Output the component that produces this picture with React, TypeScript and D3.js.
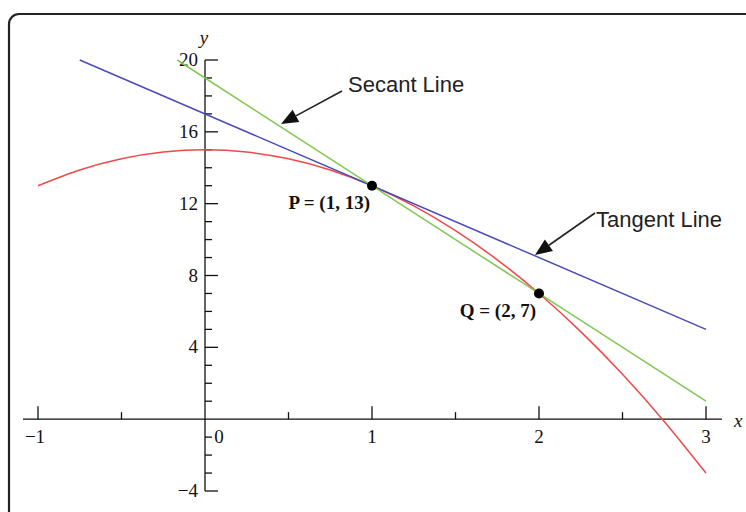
import React from 'react';
import * as d3 from 'd3';

// curve y = f(x)
const curveX = [-1, -0.75, -0.5, -0.25, 0, 0.25, 0.5, 0.75, 1, 1.25, 1.5, 1.75, 2, 2.25, 2.5, 2.75, 3];
const curveY = [13, 13.875, 14.5, 14.875, 15, 14.875, 14.5, 13.875, 13, 11.875, 10.5, 8.875, 7, 4.875, 2.5, -0.125, -3];

// straight lines (end points)
const tangentX = [-0.75, 3];
const tangentY = [20, 5];
const secantX = [-0.1667, 3];
const secantY = [20, 1];

// marked points
const pointNames = ['P = (1, 13)', 'Q = (2, 7)'];
const pointX = [1, 2];
const pointY = [13, 7];

const xMajor = [-1, 1, 2, 3];
const xMinor = [-0.5, 0.5, 1.5, 2.5];
const yMajor = [-4, 4, 8, 12, 16, 20];
const yMinor = d3.range(-4, 21).filter(v => v % 4 !== 0);

const W = 746;
const H = 512;

const serif = '"Liberation Serif", "DejaVu Serif", serif';
const sans = '"Liberation Sans", Arial, sans-serif';

function Arrow({x1, y1, x2, y2}: {x1: number; y1: number; x2: number; y2: number}) {
    // line from (x1,y1) with a filled head at (x2,y2)
    const ang = Math.atan2(y2 - y1, x2 - x1);
    const len = 17, half = 7;
    const bx = x2 - len * Math.cos(ang), by = y2 - len * Math.sin(ang);
    const px = -Math.sin(ang) * half, py = Math.cos(ang) * half;
    return (
        <g>
            <line x1={x1} y1={y1} x2={bx} y2={by} stroke="#222" strokeWidth={1.6}/>
            <path d={`M${x2},${y2}L${bx + px},${by + py}L${bx - px},${by - py}Z`} fill="#111"/>
        </g>
    );
}

export default function App() {
    const x = d3.scaleLinear().domain([-1, 3]).range([38, 706]);
    const y = d3.scaleLinear().domain([-4, 20]).range([491, 60]);

    const line = d3.line<[number, number]>()
        .x(d => x(d[0]))
        .y(d => y(d[1]));
    const smooth = d3.line<[number, number]>()
        .x(d => x(d[0]))
        .y(d => y(d[1]))
        .curve(d3.curveNatural);

    const curve = curveX.map((v, i) => [v, curveY[i]] as [number, number]);
    const tangent = tangentX.map((v, i) => [v, tangentY[i]] as [number, number]);
    const secant = secantX.map((v, i) => [v, secantY[i]] as [number, number]);

    const x0 = x(0), y0 = y(0);

    return (
        <svg width={W} height={H} style={{position: 'absolute', left: 0, top: 0, background: '#fff'}}>
            <rect x={9} y={14} width={760} height={520} rx={10} fill="none" stroke="#222" strokeWidth={2.2}/>

            {/* axes */}
            <line x1={23} x2={722} y1={y0} y2={y0} stroke="#111" strokeWidth={1.3}/>
            <line x1={x0} x2={x0} y1={y(20)} y2={y(-4)} stroke="#111" strokeWidth={1.3}/>
            {xMajor.map(v => (
                <line key={'xM' + v} x1={x(v)} x2={x(v)} y1={y0} y2={y0 - 13} stroke="#111" strokeWidth={1.3}/>
            ))}
            {xMinor.map(v => (
                <line key={'xm' + v} x1={x(v)} x2={x(v)} y1={y0} y2={y0 - 7} stroke="#111" strokeWidth={1.3}/>
            ))}
            {yMajor.map(v => (
                <line key={'yM' + v} x1={x0} x2={x0 + 13} y1={y(v)} y2={y(v)} stroke="#111" strokeWidth={1.3}/>
            ))}
            {yMinor.map(v => (
                <line key={'ym' + v} x1={x0} x2={x0 + 7} y1={y(v)} y2={y(v)} stroke="#111" strokeWidth={1.3}/>
            ))}

            <g fontFamily={serif} fontSize={19} fill="#111">
                {xMajor.map(v => (
                    <text key={'xl' + v} x={x(v) - (v < 0 ? 3 : 0)} y={443} textAnchor="middle">
                        {v < 0 ? '\u2212' + Math.abs(v) : v}
                    </text>
                ))}
                <text x={x0 + 14} y={443} textAnchor="middle">0</text>
                {yMajor.map(v => (
                    <text key={'yl' + v} x={198} y={y(v) + 6} textAnchor="end">
                        {v < 0 ? '\u2212' + Math.abs(v) : v}
                    </text>
                ))}
                <text x={204} y={44} fontStyle="italic" textAnchor="middle">y</text>
                <text x={734} y={427} fontStyle="italic">x</text>
            </g>

            {/* curves */}
            <path d={smooth(curve) ?? ''} fill="none" stroke="#f04848" strokeWidth={1.5}/>
            <path d={line(tangent) ?? ''} fill="none" stroke="#4a4ab8" strokeWidth={1.5}/>
            <path d={line(secant) ?? ''} fill="none" stroke="#80c850" strokeWidth={1.5}/>

            {pointX.map((v, i) => (
                <circle key={'p' + i} cx={x(v)} cy={y(pointY[i])} r={5} fill="#000"/>
            ))}
            <g fontFamily={serif} fontSize={19} fontWeight="bold" fill="#111">
                <text x={x(pointX[0]) - 2} y={y(pointY[0]) + 23} textAnchor="end">{pointNames[0]}</text>
                <text x={x(pointX[1]) - 3} y={y(pointY[1]) + 24} textAnchor="end">{pointNames[1]}</text>
            </g>

            {/* annotations */}
            <Arrow x1={342} y1={91} x2={281} y2={124}/>
            <Arrow x1={595} y1={213} x2={535} y2={255}/>
            <g fontFamily={sans} fontSize={22} fill="#222">
                <text x={348} y={92}>Secant Line</text>
                <text x={596} y={227}>Tangent Line</text>
            </g>
        </svg>
    );
}
